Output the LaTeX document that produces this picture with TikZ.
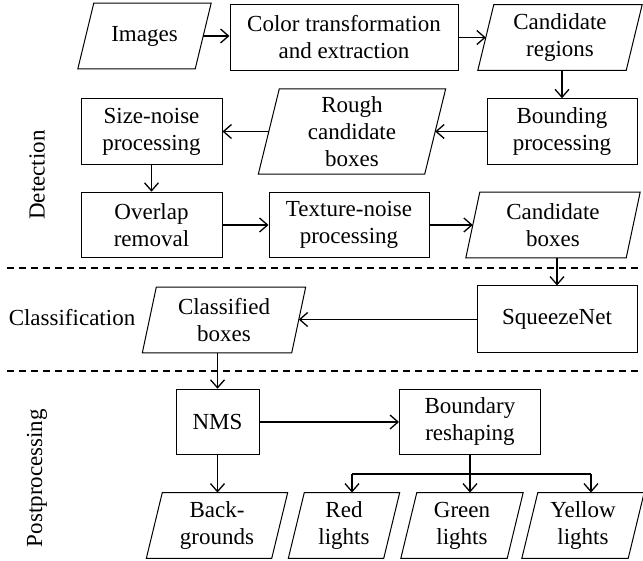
\documentclass[tikz,border=0pt]{standalone}
\usepackage{fontspec}
\setmainfont{Liberation Serif}
\newfontfamily\timesfont{Liberation Serif}
\usetikzlibrary{arrows.meta,calc}
\tikzset{
  base/.style={inner sep=0pt, align=center, font=\timesfont\fontsize{23}{27}\selectfont},
  proc/.style={base, draw, line width=1pt, minimum width=#1, minimum height=65.5pt},
  iobox/.style={base, minimum width=#1, minimum height=65.5pt},
  arr/.style={line width=1.3pt, -{Straight Barb[length=8pt,width=14pt]}},
  lnk/.style={line width=1.3pt},
  sepline/.style={line width=1.4pt, dash pattern=on 7pt off 5pt},
  lbl/.style={base},
}
\newcommand\pgram[2]{\draw[line width=1pt] ($(#1.north west)+(#2,0)$) -- ($(#1.north east)+(#2,0)$) -- ($(#1.south east)-(#2,0)$) -- ($(#1.south west)-(#2,0)$) -- cycle;}
\begin{document}
\begin{tikzpicture}[x=1pt,y=-1pt]
\useasboundingbox (0,0) rectangle (643,561);
% Detection
\node[iobox=117pt] (img) at (144.5,36) {Images};
\node[proc=228pt] (col) at (344,37.5) {Color transformation\\and extraction};
\node[iobox=148pt] (creg) at (560,37.5) {Candidate\\regions};
\node[proc=150pt] (bnd) at (562,131.5) {Bounding\\processing};
\node[iobox=166pt, minimum height=85pt] (rough) at (352,131.5) {Rough\\candidate\\boxes};
\node[proc=141pt] (size) at (151.5,131.5) {Size-noise\\processing};
\node[proc=141pt] (ovl) at (151.5,225) {Overlap\\removal};
\node[proc=160pt] (tex) at (349,225) {Texture-noise\\processing};
\node[iobox=160pt] (cbox) at (553,225) {Candidate\\boxes};
% Classification
\node[proc=160pt, minimum height=67pt] (sqz) at (557,319.5) {SqueezeNet};
\node[iobox=149pt] (cls) at (224,320) {Classified\\boxes};
% Postprocessing
\node[proc=83pt] (nms) at (217.5,422) {NMS};
\node[proc=141pt] (bdr) at (470,422) {Boundary\\reshaping};
\node[iobox=125pt] (bg) at (217,525.5) {Back-\\grounds};
\node[iobox=95pt] (red) at (344,525.5) {Red\\lights};
\node[iobox=106pt] (grn) at (462,525.5) {Green\\lights};
\node[iobox=106pt] (yel) at (583,525.5) {Yellow\\lights};
% parallelogram outlines
\pgram{img}{8}
\pgram{creg}{8}
\pgram{rough}{10.5}
\pgram{cbox}{7}
\pgram{cls}{7}
\pgram{bg}{8}
\pgram{red}{8}
\pgram{grn}{8}
\pgram{yel}{8}
% section labels
\node[lbl, rotate=90] (ldet) at (37,175) {Detection};
\node[lbl] (lcls) at (72,318) {Classification};
\node[lbl, rotate=90] (lpost) at (37,478) {Postprocessing};
% separators
\coordinate (s1a) at (7,268);
\coordinate (s1b) at (643,268);
\coordinate (s2a) at (7,371);
\coordinate (s2b) at (643,371);
\draw[sepline] (s1a) -- (s1b);
\draw[sepline] (s2a) -- (s2b);
% connectors
\draw[arr] (img.east) -- (img.east -| col.west);
\draw[arr] (col.east) -- (col.east -| creg.west);
\draw[arr] (creg.south -| bnd) -- (bnd.north);
\draw[arr] (bnd.west) -- (bnd.west -| rough.east);
\draw[arr] (rough.west) -- (rough.west -| size.east);
\draw[arr] (size.south) -- (ovl.north);
\draw[arr] (ovl.east) -- (tex.west);
\draw[arr] (tex.east) -- (tex.east -| cbox.west);
\draw[arr] (cbox.south -| sqz) -- (sqz.north);
\draw[arr] (sqz.west) -- (sqz.west -| cls.east);
\draw[arr] (cls.south -| nms) -- (nms.north);
\draw[arr] (nms.east) -- (bdr.west);
\draw[arr] (nms.south) -- (nms.south |- bg.north);
\coordinate (redt) at ($(red.north)+(8,0)$);
\coordinate (grnt) at ($(grn.north)+(8,0)$);
\coordinate (yelt) at ($(yel.north)+(8,0)$);
\coordinate (fk) at (470,474);
\draw[lnk] (fk -| redt) -- (fk -| yelt);
\draw[arr] (bdr.south) -- (grnt);
\draw[arr] (fk -| redt) -- (redt);
\draw[arr] (fk -| yelt) -- (yelt);
\end{tikzpicture}
\end{document}
